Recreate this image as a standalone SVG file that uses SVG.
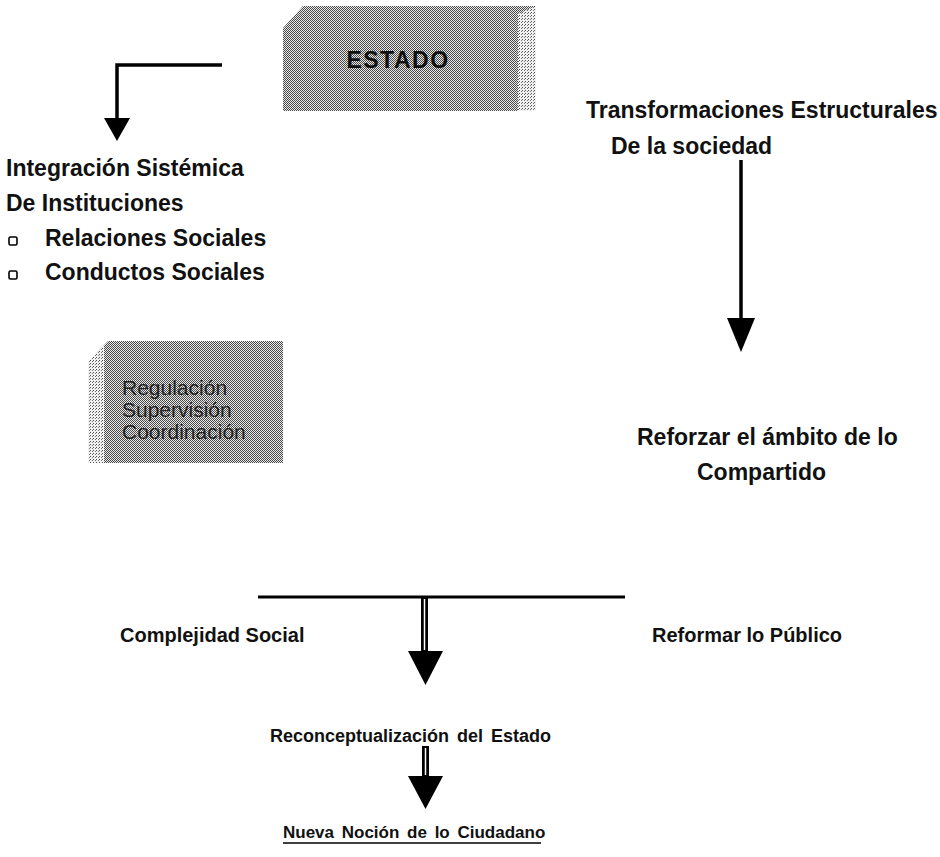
<svg xmlns="http://www.w3.org/2000/svg" width="940" height="857" viewBox="0 0 940 857">
<defs>
<pattern id="dither" x="0" y="0" width="2" height="2" patternUnits="userSpaceOnUse">
<rect width="2" height="2" fill="#e8e8e8"/>
<rect x="0" y="0" width="1" height="1" fill="#4a4a4a"/>
<rect x="1" y="1" width="1" height="1" fill="#4a4a4a"/>
</pattern>
<pattern id="ditherLight" x="0" y="0" width="3" height="3" patternUnits="userSpaceOnUse">
<rect width="3" height="3" fill="#f0f0f0"/>
<rect x="0" y="0" width="1" height="1" fill="#555"/>
<rect x="2" y="1" width="1" height="1" fill="#777"/>
</pattern>
</defs>
<style>
.t{font-family:"Liberation Sans",Arial,sans-serif;font-weight:bold;font-size:23px;fill:#111}
.s{font-family:"Liberation Sans",Arial,sans-serif;font-weight:bold;font-size:20px;fill:#111}
.box{font-family:"Liberation Sans",Arial,sans-serif;font-size:21px;fill:#222}
.ln{stroke:#000;stroke-width:3.5;fill:none}
.head{fill:#000}
</style>
<g id="estado">
<polygon points="283,28 303,6 536,6 536,111 283,111" fill="url(#dither)"/>
<polygon points="518,14 536,6 536,111 518,111" fill="url(#ditherLight)"/>
<text x="398" y="68" text-anchor="middle" class="t" style="letter-spacing:1.5px">ESTADO</text>
</g>
<g id="integracion">
<text x="6" y="176" class="t">Integración Sistémica</text>
<text x="6" y="211" class="t">De Instituciones</text>
<rect x="9" y="237" width="8" height="8" rx="1.5" fill="none" stroke="#000" stroke-width="1.6"/>
<text x="45" y="246" class="t">Relaciones Sociales</text>
<rect x="9" y="271" width="8" height="8" rx="1.5" fill="none" stroke="#000" stroke-width="1.6"/>
<text x="45" y="280" class="t">Conductos Sociales</text>
</g>
<g id="regulacion">
<polygon points="88,362 108,341 283,341 283,463 88,463" fill="url(#dither)"/>
<polygon points="88,362 104,345 104,463 88,463" fill="url(#ditherLight)"/>
<text x="122" y="395" class="box">Regulación</text>
<text x="122" y="417" class="box">Supervisión</text>
<text x="122" y="439" class="box">Coordinación</text>
</g>
<g id="transformaciones">
<text x="586" y="118" class="t">Transformaciones Estructurales</text>
<text x="611" y="154" class="t">De la sociedad</text>
</g>
<g id="reforzar">
<text x="637" y="445" class="t">Reforzar el ámbito de lo</text>
<text x="697" y="480" class="t">Compartido</text>
</g>
<g id="complejidad">
<text x="120" y="642" class="s">Complejidad Social</text>
</g>
<g id="reformar">
<text x="652" y="642" class="s">Reformar lo Público</text>
</g>
<g id="reconceptualizacion">
<text x="270" y="742" class="s" style="font-size:18px;word-spacing:3px">Reconceptualización del Estado</text>
</g>
<g id="nueva">
<text x="283" y="838" class="s" style="font-size:17px;word-spacing:3px">Nueva Noción de lo Ciudadano</text>
<line x1="283" y1="843" x2="541" y2="843" stroke="#000" stroke-width="1.5"/>
</g>
<g id="connectors">
<polyline class="ln" points="222,65 117,65 117,120"/>
<polygon class="head" points="104,118 130,118 117,141"/>
<line class="ln" x1="741" y1="160" x2="741" y2="320"/>
<polygon class="head" points="727,318 755,318 741,352"/>
<line x1="258" y1="597" x2="625" y2="597" stroke="#000" stroke-width="3"/>
<rect x="421" y="597" width="7" height="55" fill="#000"/>
<line x1="424.5" y1="599" x2="424.5" y2="650" stroke="#fff" stroke-width="1.5"/>
<polygon class="head" points="408,651 443,651 425.5,685"/>
<rect x="422" y="746" width="7" height="31" fill="#000"/>
<line x1="425.5" y1="748" x2="425.5" y2="775" stroke="#fff" stroke-width="1.5"/>
<polygon class="head" points="408,776 443,776 425.5,809"/>
</g>
</svg>
